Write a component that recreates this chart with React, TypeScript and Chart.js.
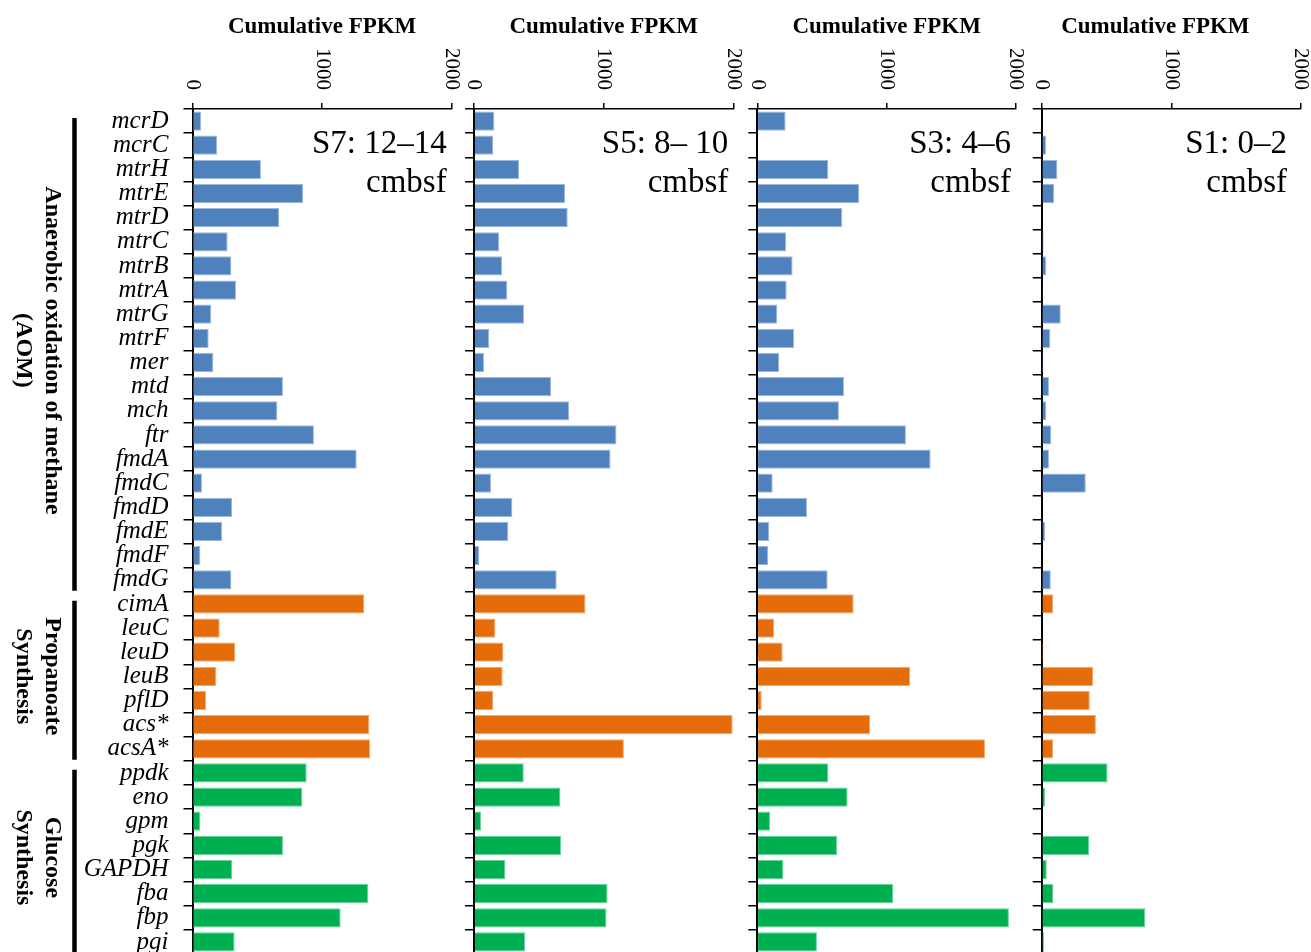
import React, { useEffect, useRef } from "react";
import { Chart, registerables } from "chart.js";

Chart.register(...registerables);

const FONT = "'Liberation Serif', 'Times New Roman', Times, serif";

// ---------- data ----------
const categories = [
  "mcrD", "mcrC", "mtrH", "mtrE", "mtrD", "mtrC", "mtrB", "mtrA", "mtrG", "mtrF",
  "mer", "mtd", "mch", "ftr", "fmdA", "fmdC", "fmdD", "fmdE", "fmdF", "fmdG",
  "cimA", "leuC", "leuD", "leuB", "pflD", "acs*", "acsA*",
  "ppdk", "eno", "gpm", "pgk", "GAPDH", "fba", "fbp", "pgi",
];

const groupLabels = [
  ["Anaerobic oxidation of methane", "(AOM)"],
  ["Propanoate", "Synthesis"],
  ["Glucose", "Synthesis"],
];
const groupSizes = [20, 7, 8];
const groupColors = ["#4F81BD", "#E46C0A", "#00B050"];
const groupEdgeColors = ["#9DB9DD", "#F2A86E", "#6AD29A"];

const axisTitle = "Cumulative FPKM";
const xTicks = [0, 1000, 2000];

const sampleLabels = [
  ["S7: 12–14", "cmbsf"],
  ["S5: 8– 10", "cmbsf"],
  ["S3: 4–6", "cmbsf"],
  ["S1: 0–2", "cmbsf"],
];

const s7 = [
  66, 189, 528, 853, 670, 271, 300, 336, 145, 125,
  161, 698, 655, 937, 1267, 73, 305, 228, 61, 300,
  1326, 210, 331, 184, 104, 1365, 1370,
  881, 848, 61, 698, 305, 1357, 1143, 325,
];
const s5 = [
  157, 149, 347, 703, 723, 193, 216, 257, 386, 118,
  77, 595, 734, 1099, 1053, 131, 296, 265, 41, 638,
  860, 165, 227, 221, 149, 1995, 1156,
  384, 667, 54, 672, 242, 1030, 1022, 394,
];
const s3 = [
  219, 0, 549, 788, 657, 222, 273, 227, 155, 284,
  168, 670, 631, 1149, 1340, 119, 384, 93, 85, 544,
  745, 129, 196, 1182, 34, 873, 1760,
  549, 698, 98, 616, 201, 1049, 1945, 461,
];
const s1 = [
  5, 33, 121, 95, 5, 15, 36, 3, 147, 67,
  13, 56, 36, 74, 56, 340, 0, 26, 0, 70,
  87, 0, 13, 397, 371, 418, 87,
  508, 26, 0, 366, 39, 90, 799, 18,
];
const sampleValues = [s7, s5, s3, s1];

// ---------- layout ----------
const PAGE_W = 1311;
const PAGE_H = 952;
const CANVAS_H = 960;
const PLOT_TOP = 109;
const PLOT_BOTTOM = 954;

type PanelLayout = {
  left: number;
  width: number;
  axisX: number;
  rightX: number;
  titleShift: number;
  labelShift: number;
  showCategories: boolean;
};

const panelLayouts: PanelLayout[] = [
  { left: 0, width: 462, axisX: 192.5, rightX: 451.7, titleShift: 0, labelShift: 0, showCategories: true },
  { left: 462, width: 283, axisX: 474, rightX: 733.3, titleShift: 0, labelShift: 0, showCategories: false },
  { left: 745, width: 283, axisX: 757.3, rightX: 1016, titleShift: 0, labelShift: 0, showCategories: false },
  { left: 1028, width: 283, axisX: 1041.7, rightX: 1301, titleShift: -16, labelShift: -9, showCategories: false },
];

const barColors = groupSizes.flatMap((n, g) => Array(n).fill(groupColors[g]));
const barEdges = groupSizes.flatMap((n, g) => Array(n).fill(groupEdgeColors[g]));

function Panel({ index }: { index: number }) {
  const ref = useRef<HTMLCanvasElement | null>(null);
  const lay = panelLayouts[index];

  useEffect(() => {
    const canvas = ref.current;
    if (!canvas) return;

    const decor = {
      id: "panelDecor" + index,
      afterDraw(chart: any) {
        const ctx = chart.ctx as CanvasRenderingContext2D;
        const area = chart.chartArea;
        const xs = chart.scales.x;
        ctx.save();
        ctx.fillStyle = "#000";

        // axis title
        ctx.font = `bold 23px ${FONT}`;
        ctx.textAlign = "center";
        ctx.textBaseline = "alphabetic";
        ctx.fillText(axisTitle, (area.left + area.right) / 2 + lay.titleShift, 33);

        // rotated tick labels (reading top to bottom)
        ctx.font = `21px ${FONT}`;
        for (const v of xTicks) {
          const px = xs.getPixelForValue(v);
          ctx.save();
          ctx.translate(px, area.top - 19);
          ctx.rotate(Math.PI / 2);
          ctx.textAlign = "right";
          ctx.textBaseline = "middle";
          ctx.fillText(String(v), 0, 0);
          ctx.restore();
        }

        // sample label
        const lines = sampleLabels[index];
        ctx.font = `33px ${FONT}`;
        ctx.textAlign = "right";
        ctx.textBaseline = "alphabetic";
        ctx.fillText(lines[0], area.right - 5 + lay.labelShift, 153);
        ctx.fillText(lines[1], area.right - 5 + lay.labelShift, 192);

        // group brackets and labels
        if (lay.showCategories) {
          const step = (area.bottom - area.top) / categories.length;
          let start = 0;
          groupSizes.forEach((n, g) => {
            const top = area.top + start * step;
            const bottom = top + n * step;
            ctx.strokeStyle = "#000";
            ctx.lineWidth = 4.5;
            ctx.beginPath();
            ctx.moveTo(74.5, top + 9);
            ctx.lineTo(74.5, bottom - 1);
            ctx.stroke();

            const cy = (top + bottom) / 2;
            ctx.save();
            ctx.translate(37.5, cy);
            ctx.rotate(Math.PI / 2);
            ctx.font = `bold 24px ${FONT}`;
            ctx.textAlign = "center";
            ctx.textBaseline = "middle";
            ctx.fillText(groupLabels[g][0], 0, -14.5);
            ctx.fillText(groupLabels[g][1], 0, 14.5);
            ctx.restore();
            start += n;
          });
        }
        ctx.restore();
      },
    };

    const chart = new Chart(canvas, {
      type: "bar",
      data: {
        labels: categories,
        datasets: [
          {
            data: sampleValues[index],
            backgroundColor: barColors,
            borderColor: barEdges,
            borderWidth: 1,
            barPercentage: 0.8,
            categoryPercentage: 1.0,
          },
        ],
      },
      options: {
        indexAxis: "y",
        responsive: false,
        maintainAspectRatio: false,
        animation: false,
        devicePixelRatio: 1,
        layout: {
          padding: {
            left: 0,
            top: 0,
            right: lay.left + lay.width - lay.rightX,
            bottom: CANVAS_H - PLOT_BOTTOM,
          },
        },
        plugins: {
          legend: { display: false },
          title: { display: false },
          tooltip: { enabled: false },
        },
        scales: {
          x: {
            type: "linear",
            position: "top",
            min: 0,
            max: 2000,
            ticks: { display: false, stepSize: 1000 },
            grid: {
              drawOnChartArea: false,
              drawTicks: true,
              tickLength: 6,
              color: "#000",
              lineWidth: 1.5,
            },
            border: { display: true, color: "#000", width: 1.5 },
            afterFit: (s: any) => {
              s.height = PLOT_TOP;
              s.paddingLeft = 0;
              s.paddingRight = 0;
              s.paddingTop = 0;
              s.paddingBottom = 0;
            },
          },
          y: {
            type: "category",
            position: "left",
            offset: true,
            ticks: {
              display: lay.showCategories,
              autoSkip: false,
              color: "#000",
              padding: 15,
              font: { family: FONT, size: 25, style: "italic" },
            },
            grid: {
              offset: true,
              drawOnChartArea: false,
              drawTicks: true,
              tickLength: 9,
              color: "#000",
              lineWidth: 1.5,
            },
            border: { display: true, color: "#000", width: 2 },
            afterFit: (s: any) => {
              s.width = lay.axisX - lay.left;
              s.paddingLeft = 0;
              s.paddingRight = 0;
              s.paddingTop = 0;
              s.paddingBottom = 0;
            },
          },
        },
      },
      plugins: [decor],
    } as any);

    return () => chart.destroy();
  }, [index]);

  return (
    <canvas
      ref={ref}
      width={lay.width}
      height={CANVAS_H}
      style={{
        position: "absolute",
        left: lay.left,
        top: 0,
        width: lay.width,
        height: CANVAS_H,
        display: "block",
      }}
    />
  );
}

export default function App() {
  return (
    <div
      style={{
        position: "fixed",
        left: 0,
        top: 0,
        width: PAGE_W,
        height: PAGE_H,
        overflow: "hidden",
        background: "#fff",
      }}
    >
      {panelLayouts.map((_, i) => (
        <Panel key={i} index={i} />
      ))}
    </div>
  );
}
